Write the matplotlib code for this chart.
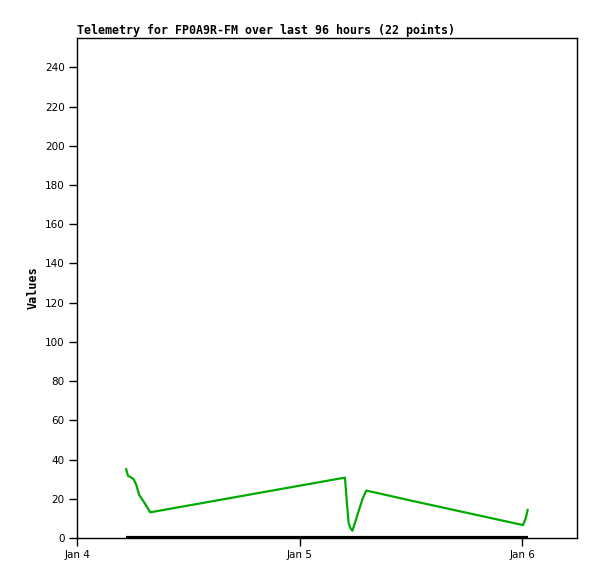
import numpy as np
import matplotlib
matplotlib.use('Agg')
from matplotlib import pyplot as plt
import matplotlib.dates as mdates
from datetime import datetime, timedelta

# hours after Jan 4 00:00
hours = [5.3, 5.5, 5.8, 6.1, 6.4, 6.7, 7.2, 7.9,
         28.9, 29.1, 29.3, 29.5, 29.7, 30.0, 30.3, 30.8, 31.2,
         36.0, 42.0, 48.1, 48.4, 48.6]
values = [35.1, 31.7, 31.0, 30.0, 27.0, 22.0, 18.5, 13.1,
          30.8, 18.5, 7.5, 5.0, 3.7, 8.0, 12.6, 20.0, 24.2,
          19.1, 12.9, 6.6, 10.0, 14.3]
base_vals = [0] * len(hours)

title = 'Telemetry for FP0A9R-FM over last 96 hours (22 points)'
ylabel = 'Values'

start = datetime(2024, 1, 4)
times = [start + timedelta(hours=h) for h in hours]

fig = plt.figure(figsize=(5.97, 5.79), dpi=100)
ax = fig.add_axes([77/597, 41/579, 500/597, 500/579])

ax.plot(times, base_vals, color='black', lw=3, solid_capstyle='butt', zorder=2)
ax.plot(times, values, color='#00aa00', lw=1.6, zorder=3)

ax.set_ylim(0, 255)
ax.set_yticks(np.arange(0, 241, 20))
ax.set_xlim(start, start + timedelta(days=2.247))
ax.xaxis.set_major_locator(mdates.DayLocator())
ax.xaxis.set_major_formatter(mdates.DateFormatter('%b %-d'))

ax.tick_params(direction='out', length=6, width=1, labelsize=7.5, pad=3)
for s in ax.spines.values():
    s.set_linewidth(1)

ax.set_title(title, loc='left', family='DejaVu Sans Mono', fontweight='bold',
             fontsize=8.4, pad=3)
ax.set_ylabel(ylabel, family='DejaVu Sans Mono', fontweight='bold', fontsize=8.5)
ax.yaxis.set_label_coords(-0.075, 0.5)

fig.savefig('out.png', dpi=100)
